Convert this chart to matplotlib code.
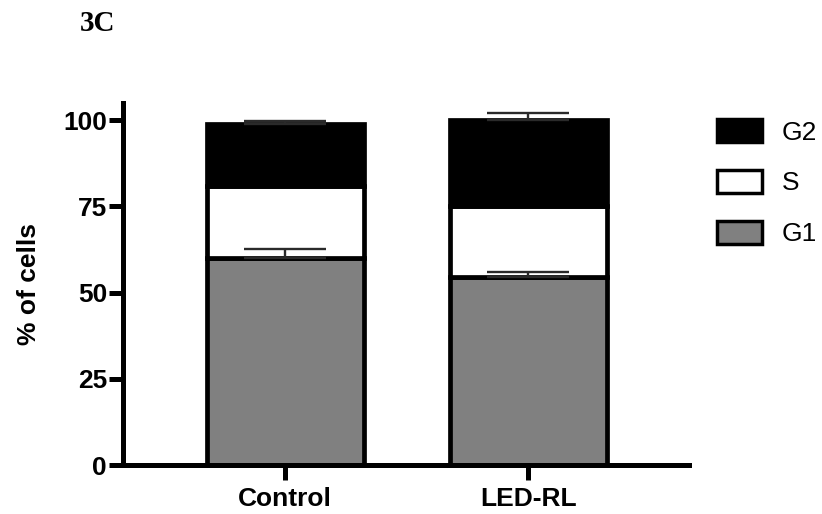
import matplotlib
matplotlib.use("Agg")
import matplotlib.pyplot as plt
import numpy as np
from matplotlib.patches import Patch

categories = ["Control", "LED-RL"]
g1 = [60.0, 54.5]
s = [21.0, 20.5]
g2 = [18.0, 25.2]
g1_err = [2.6, 1.6]
g2_err = [0.7, 1.8]

plt.rcParams['font.family'] = ['Liberation Sans', 'DejaVu Sans']
FS = 19

fig = plt.figure(figsize=(8.22, 5.14), dpi=100)
ax = fig.add_axes([0.1496, 0.0953, 0.838 - 0.1496, 0.7996 - 0.0953])

x = np.arange(len(categories))
width = 0.645
lw = 3.4
ax.bar(x, g1, width, color="#808080", edgecolor="black", linewidth=lw, zorder=2, label="G1")
bottom2 = np.array(g1)
ax.bar(x, s, width, bottom=bottom2, color="white", edgecolor="black", linewidth=lw, zorder=2, label="S")
bottom3 = bottom2 + np.array(s)
ax.bar(x, g2, width, bottom=bottom3, color="black", edgecolor="black", linewidth=lw, zorder=2, label="G2")

top3 = bottom3 + np.array(g2)
ax.errorbar(x, g1, yerr=[np.zeros(2), g1_err], fmt="none", ecolor="#2a2a2a",
            elinewidth=1.7, capsize=29.5, capthick=1.7, zorder=4)
ax.errorbar(x, top3, yerr=[np.zeros(2), g2_err], fmt="none", ecolor="#2a2a2a",
            elinewidth=1.7, capsize=29.5, capthick=1.7, zorder=4)

ax.set_xlim(-0.667, 1.66)
ax.set_ylim(0, 105)
ax.set_yticks([0, 25, 50, 75, 100])
ax.set_xticks(x)
ax.set_xticklabels(categories, fontsize=FS, fontweight="bold")
for lab in ax.get_yticklabels():
    lab.set_fontsize(FS)
    lab.set_fontweight("bold")
ax.set_ylabel("% of cells", fontsize=FS, fontweight="bold", labelpad=16)

for side in ["top", "right"]:
    ax.spines[side].set_visible(False)
for side in ["left", "bottom"]:
    ax.spines[side].set_linewidth(3.6)
ax.tick_params(axis="y", direction="out", length=10, width=3.6, pad=1.5)
ax.tick_params(axis="x", direction="out", length=11, width=3.6, pad=5)

handles = [Patch(facecolor="black", edgecolor="black", linewidth=2.5, label="G2"),
           Patch(facecolor="white", edgecolor="black", linewidth=2.5, label="S"),
           Patch(facecolor="#808080", edgecolor="black", linewidth=2.5, label="G1")]
fig.legend(handles=handles, loc="upper left", bbox_to_anchor=(0.872, 0.769),
           frameon=False, fontsize=FS, handlelength=1.7, handleheight=1.0,
           labelspacing=0.95, handletextpad=0.75, borderpad=0, borderaxespad=0)

fig.text(0.097, 0.955, "3C", fontsize=21, fontweight="bold",
         family=["Liberation Serif", "DejaVu Serif"], ha="left", va="center")

fig.savefig("out.png", dpi=100)
